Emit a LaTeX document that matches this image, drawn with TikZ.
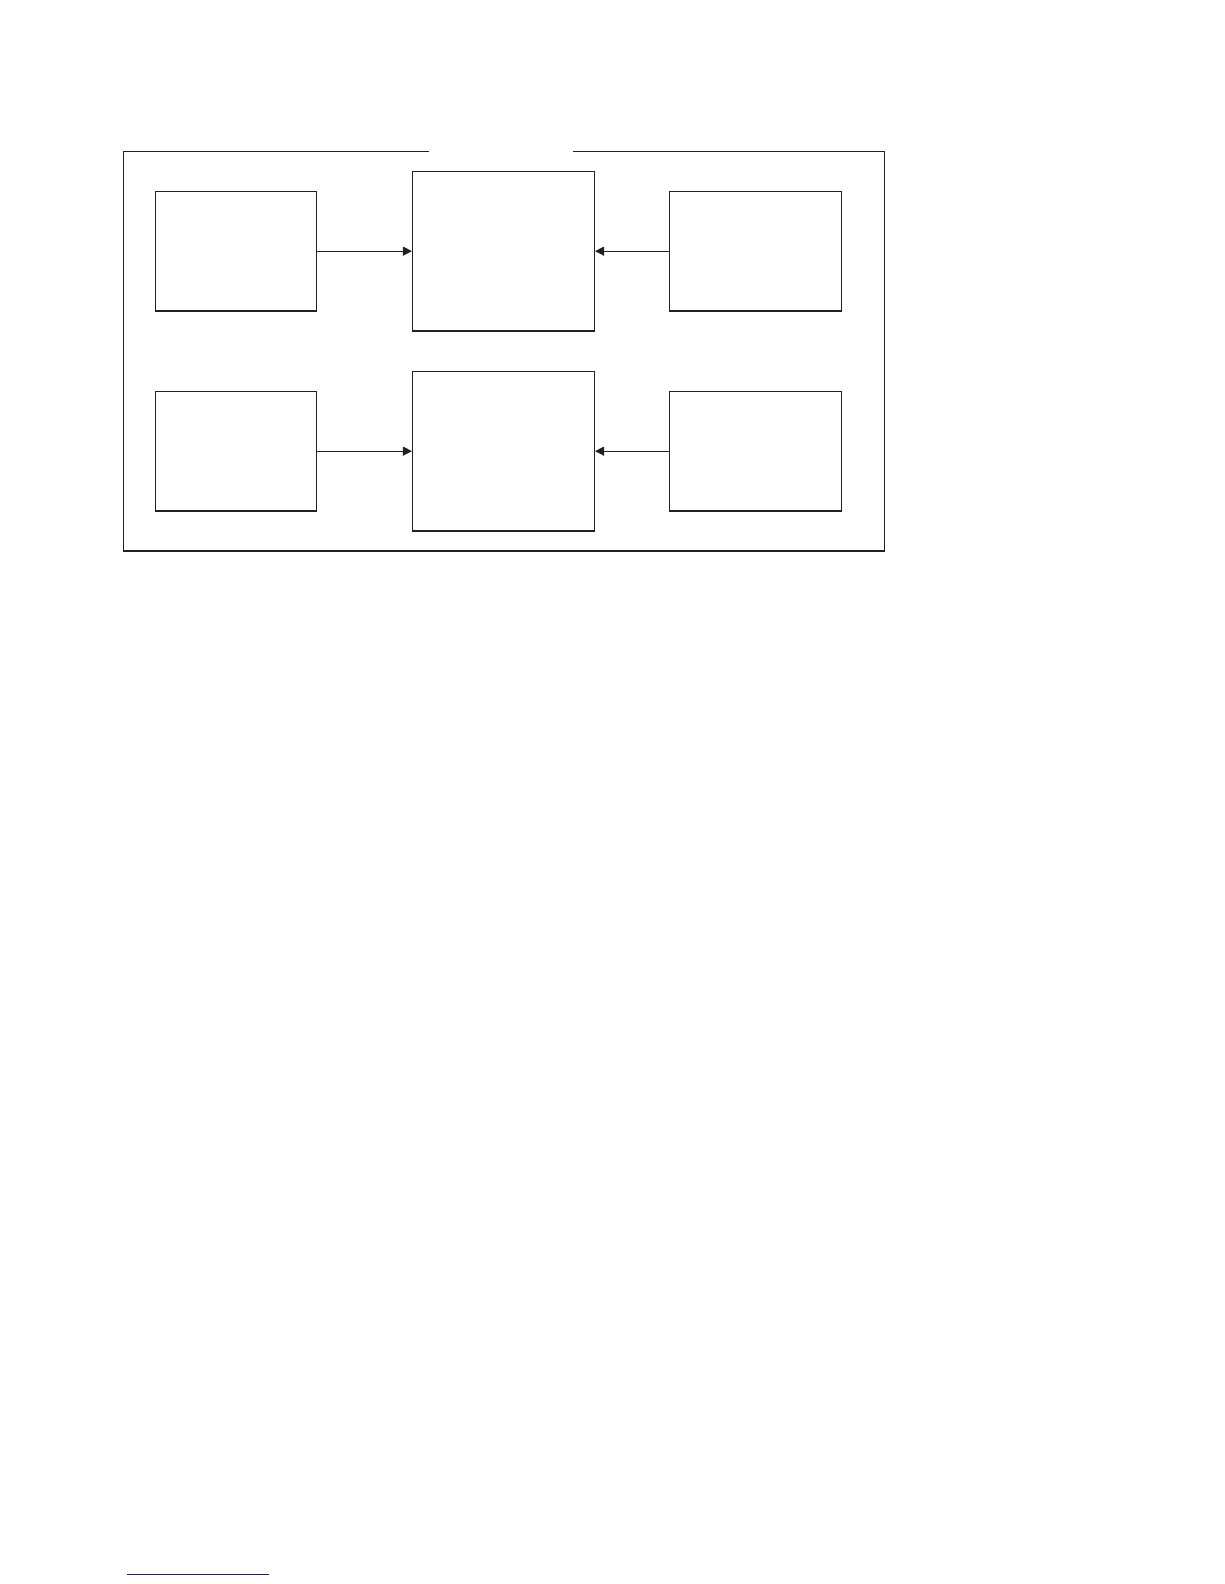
\documentclass[tikz,border=0pt]{standalone}
\usetikzlibrary{arrows.meta}
\definecolor{linecol}{RGB}{34,34,34}
\definecolor{footblue}{RGB}{25,25,140}
\begin{document}
\begin{tikzpicture}[x=1pt,y=-1pt,
  box/.style={draw=linecol,line width=1.1pt,inner sep=0pt,fill=white},
  sidebox/.style={box,minimum width=161.4pt,minimum height=119.7pt},
  rightbox/.style={box,minimum width=172.4pt,minimum height=119.7pt},
  centerbox/.style={box,minimum width=182pt,minimum height=159.7pt},
  conn/.style={draw=linecol,line width=1.1pt,-{Triangle[length=9pt,width=9pt]}},
  frameline/.style={draw=linecol,line width=1.1pt}]
\useasboundingbox (0,0) rectangle (1224,1584);
% outer frame with gap at top
\coordinate (g1) at (429,151.5);
\coordinate (tl) at (123.3,151.5);
\coordinate (bl) at (123.3,551);
\coordinate (br) at (884.3,551);
\coordinate (tr) at (884.3,151.5);
\coordinate (g2) at (573.3,151.5);
\draw[frameline] (g1) -- (tl) -- (bl) -- (br) -- (tr) -- (g2);
% boxes
\node[sidebox]   (L1) at (236,251.15) {};
\node[centerbox] (C1) at (503.5,251.15) {};
\node[rightbox]  (R1) at (755.5,251.15) {};
\node[sidebox]   (L2) at (236,451.15) {};
\node[centerbox] (C2) at (503.5,451.15) {};
\node[rightbox]  (R2) at (755.5,451.15) {};
% connectors
\draw[conn] (L1.east) -- (C1.west);
\draw[conn] (R1.west) -- (C1.east);
\draw[conn] (L2.east) -- (C2.west);
\draw[conn] (R2.west) -- (C2.east);
% footnote rule
\coordinate (fn1) at (126.7,1574.7);
\coordinate (fn2) at (269,1574.7);
\draw[footblue,line width=1.1pt] (fn1) -- (fn2);
\end{tikzpicture}
\end{document}
